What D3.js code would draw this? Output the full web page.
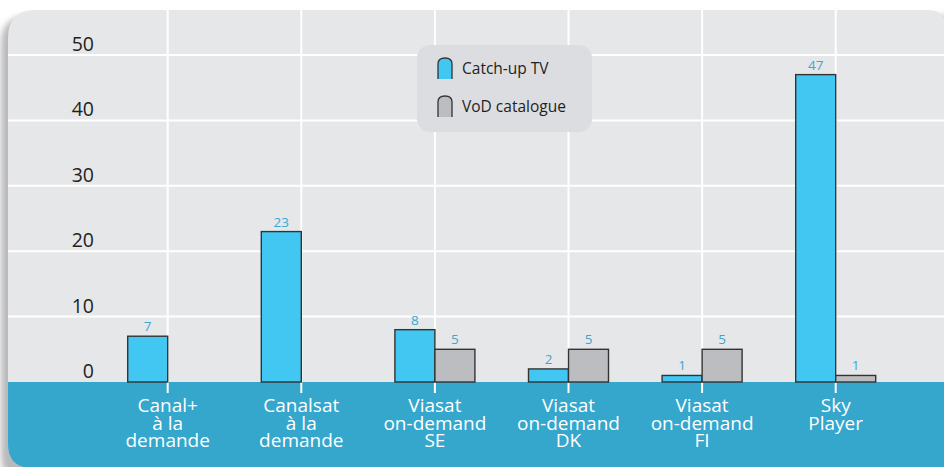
<!DOCTYPE html>
<html><head><meta charset="utf-8">
<script src="https://cdn.jsdelivr.net/npm/d3@7"></script>
<style>html,body{margin:0;padding:0;background:#fff;}svg{display:block;}</style>
</head><body>
<svg id="chart" width="944" height="467"></svg>
<script>
const categories = ["Canal+\nà la\ndemande", "Canalsat\nà la\ndemande", "Viasat\non-demand\nSE", "Viasat\non-demand\nDK", "Viasat\non-demand\nFI", "Sky\nPlayer"];
const catchUp = [7, 23, 8, 2, 1, 47];
const vod = [null, null, 5, 5, 5, 1];
const seriesNames = ["Catch-up TV", "VoD catalogue"];
const yTicks = [0, 10, 20, 30, 40, 50];

const svg = d3.select("#chart");
const font = "'Open Sans', 'Noto Sans', sans-serif";
const baseY = 382;
const x = d3.scalePoint().domain(categories).range([167.7, 835.7]);
const y = d3.scaleLinear().domain([0, 50]).range([baseY, 55]);
const barW = 40;

// shadow
const defs = svg.append("defs");
const f = defs.append("filter").attr("id", "sh").attr("x", "-5%").attr("y", "-5%").attr("width", "110%").attr("height", "110%");
f.append("feGaussianBlur").attr("stdDeviation", 3);

function panelPath(x0, y0, x1, y1, rtl, rtr, rbl) {
  return `M${x0},${y0 + rtl} Q${x0},${y0} ${x0 + rtl},${y0} L${x1 - rtr},${y0} Q${x1},${y0} ${x1},${y0 + rtr} L${x1},${y1} L${x0 + rbl},${y1} Q${x0},${y1} ${x0},${y1 - rbl} Z`;
}
svg.append("path").attr("d", panelPath(1, 16, 960, 480, 28, 18, 24)).attr("fill", "#b9b9bb").attr("filter", "url(#sh)");
svg.append("path").attr("d", panelPath(8, 10, 946, 468, 28, 18, 24)).attr("fill", "#e6e7e9");
// blue band
svg.append("clipPath").attr("id", "pc").append("path").attr("d", panelPath(8, 10, 946, 468, 28, 18, 24));
svg.append("rect").attr("x", 0).attr("y", baseY).attr("width", 944).attr("height", 100)
  .attr("fill", "#35a6cc").attr("clip-path", "url(#pc)");

// grid
const g = svg.append("g").attr("clip-path", "url(#pc)");
g.selectAll(".hg").data(yTicks.filter(d => d > 0)).join("line")
  .attr("x1", 8).attr("x2", 944).attr("y1", d => y(d)).attr("y2", d => y(d))
  .attr("stroke", "#fff").attr("stroke-width", 2);
g.selectAll(".vg").data(categories).join("line")
  .attr("x1", d => x(d)).attr("x2", d => x(d)).attr("y1", 0).attr("y2", baseY + 11)
  .attr("stroke", "#fff").attr("stroke-width", 2);

// y labels
svg.append("g").selectAll("text").data(yTicks).join("text")
  .attr("x", 94).attr("y", d => y(d) - 4).attr("text-anchor", "end")
  .attr("font-family", font).attr("font-size", 19.5).attr("fill", "#231f20")
  .text(d => d);

// legend box
const lg = svg.append("g");
lg.append("rect").attr("x", 417).attr("y", 45).attr("width", 175).attr("height", 87).attr("rx", 13)
  .attr("fill", "#dcdde0");
const tomb = (x0, y0, w, h) => `M${x0},${y0 + h} L${x0},${y0 + 6} Q${x0},${y0} ${x0 + w / 2},${y0} Q${x0 + w},${y0} ${x0 + w},${y0 + 6} L${x0 + w},${y0 + h}`;
const colors = ["#41c7f2", "#bcbdc1"];
seriesNames.forEach((n, i) => {
  const yy = 58 + i * 38;
  lg.append("path").attr("d", tomb(438, yy, 14, 21) + " Z").attr("fill", colors[i]).attr("stroke", "none");
  lg.append("path").attr("d", tomb(438, yy, 14, 21)).attr("fill", "none").attr("stroke", "#333").attr("stroke-width", 1.3);
  lg.append("text").attr("x", 462).attr("y", yy + 16).attr("font-family", font).attr("font-size", 15.5)
    .attr("fill", "#231f20").text(n);
});

// bars
const bars = svg.append("g");
const series = [catchUp, vod];
series.forEach((vals, si) => {
  const data = categories.map((c, i) => ({ c, v: vals[i] })).filter(d => d.v != null);
  bars.selectAll(".b" + si).data(data).join("rect")
    .attr("x", d => x(d.c) + (si === 0 ? -barW : 0)).attr("width", barW)
    .attr("y", d => y(d.v)).attr("height", d => baseY - y(d.v))
    .attr("fill", colors[si]).attr("stroke", "#333").attr("stroke-width", 1.4);
  bars.selectAll(".l" + si).data(data).join("text")
    .attr("x", d => x(d.c) + (si === 0 ? -barW / 2 : barW / 2)).attr("y", d => y(d.v) - 5)
    .attr("text-anchor", "middle").attr("font-family", font).attr("font-size", 13.5)
    .attr("fill", "#3aa7d1").text(d => d.v);
});

// category labels
const cl = svg.append("g");
categories.forEach(c => {
  const t = cl.append("text").attr("x", x(c)).attr("y", 412).attr("text-anchor", "middle")
    .attr("font-family", font).attr("font-size", 19).attr("fill", "#fff");
  c.split("\n").forEach((ln, i) => {
    t.append("tspan").attr("x", x(c)).attr("y", 412 + i * 17.5).text(ln);
  });
});
</script>
</body></html>
